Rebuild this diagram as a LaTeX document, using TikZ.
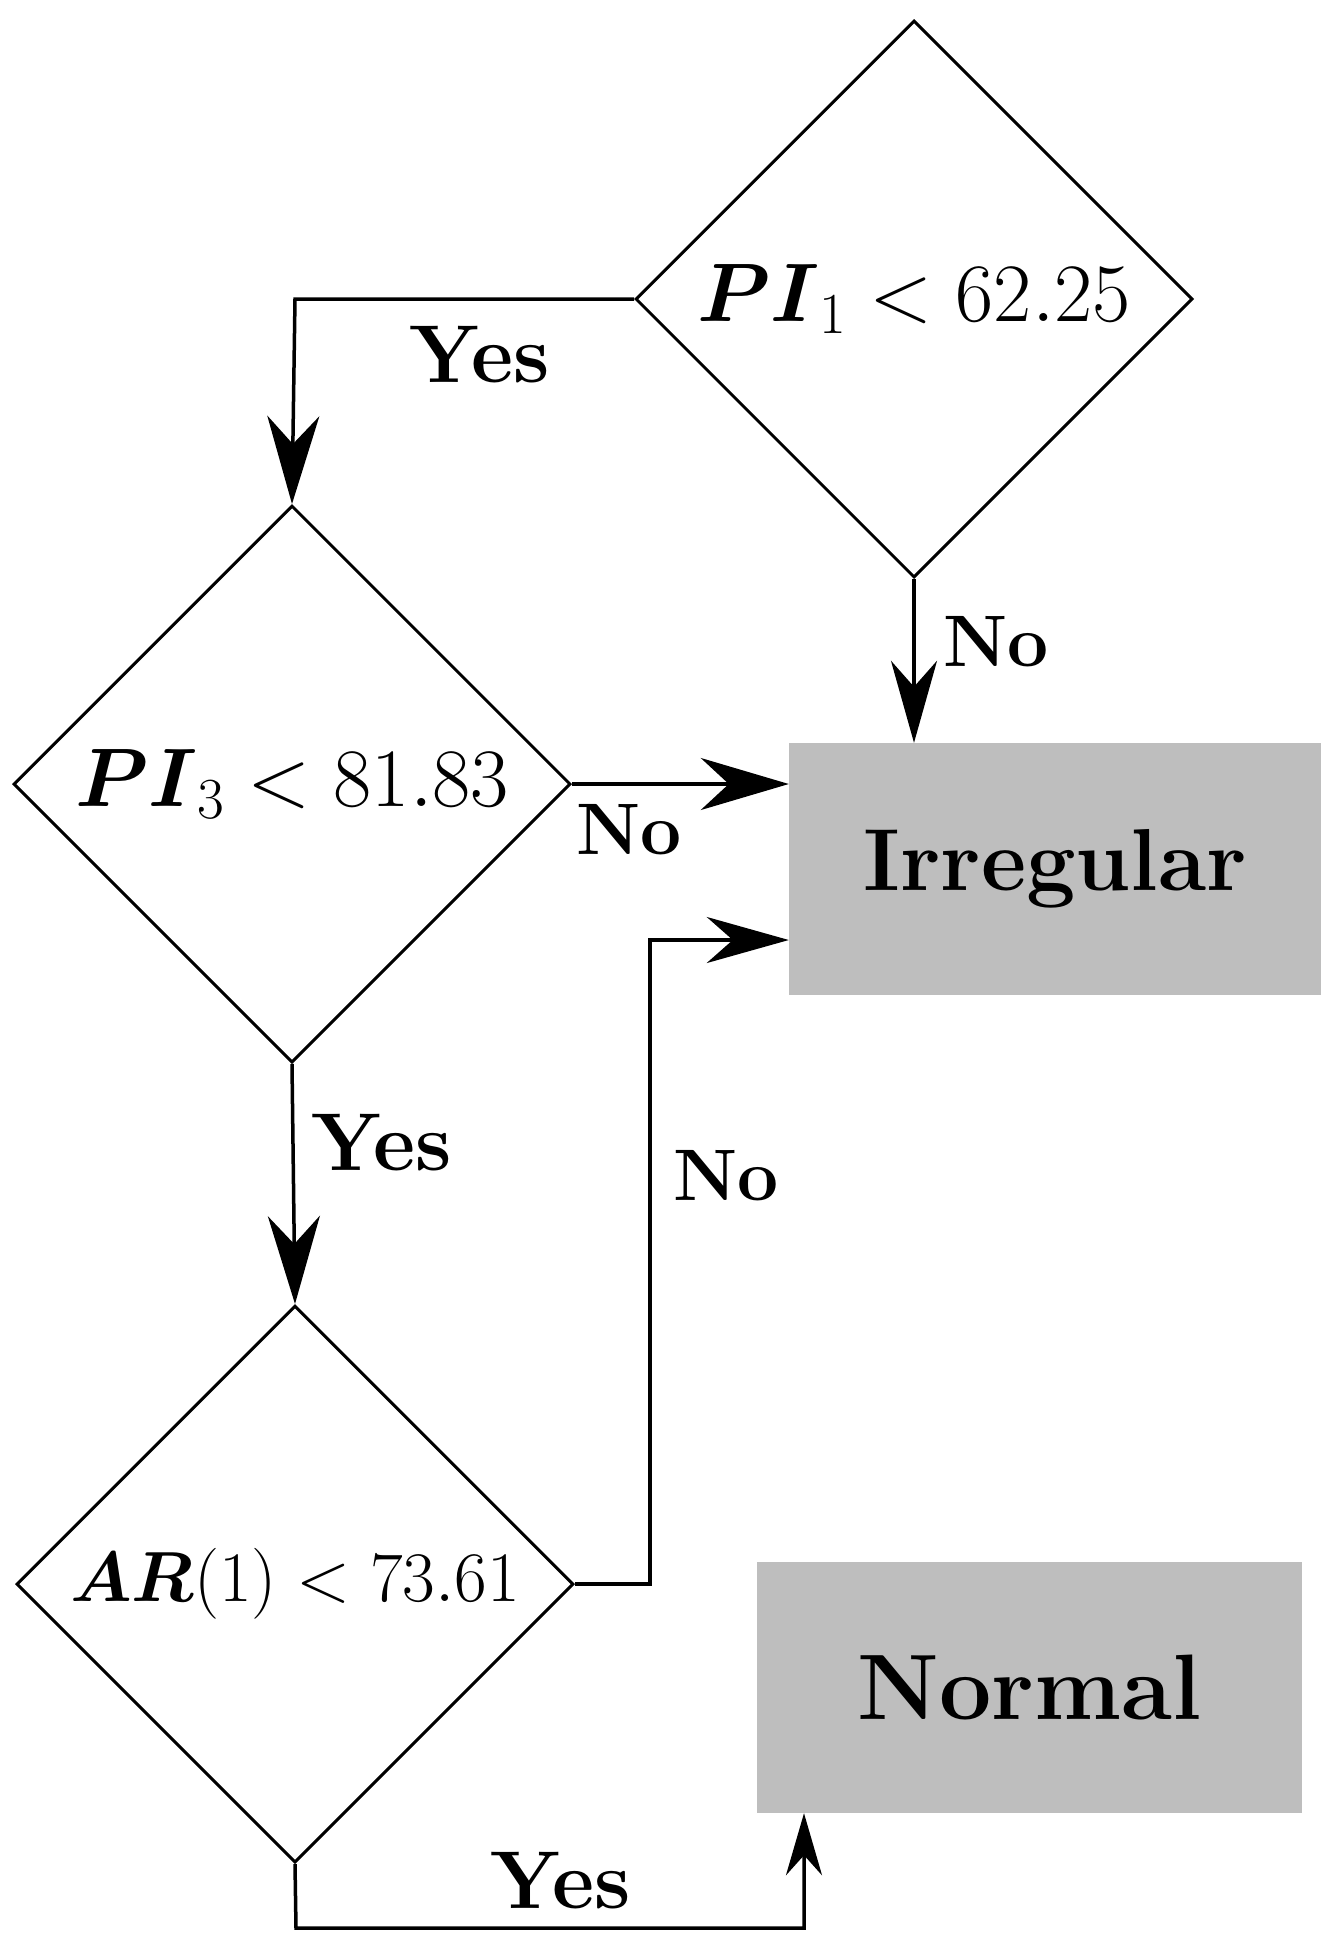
\documentclass[tikz,border=0pt]{standalone}
\usepackage{fix-cm}
\usepackage{amsmath}
\usetikzlibrary{shapes.geometric,arrows.meta}
\definecolor{boxgray}{RGB}{190,190,190}
\begin{document}
\begin{tikzpicture}[x=1pt,y=-1pt,
  decision/.style={draw=black, line width=3pt, diamond, aspect=1, inner sep=0pt,
     minimum width=557pt, minimum height=557pt},
  result/.style={fill=boxgray, draw=none, inner sep=0pt},
  conn/.style={line width=3.5pt},
  bigtip/.style={-{Stealth[length=88pt,width=52pt,inset=28pt]}},
  midtip/.style={-{Stealth[length=82pt,width=46pt,inset=26pt]}},
  smalltip/.style={-{Stealth[length=62pt,width=36pt,inset=20pt]}},
  yeslbl/.style={font=\fontsize{82}{88}\selectfont\bfseries, inner sep=0pt},
  nolbl/.style={font=\fontsize{73}{80}\selectfont\bfseries, inner sep=0pt},
]
\useasboundingbox (0,0) rectangle (1323,1944);
\fill[white] (0,0) rectangle (1323,1944);

\node[decision] (d1) at (914,299) {\fontsize{83}{90}\selectfont $\boldsymbol{PI}_1 < 62.25$};
\node[decision] (d2) at (292,784) {\fontsize{83}{90}\selectfont $\boldsymbol{PI}_3 < 81.83$};
\node[decision] (d3) at (295,1584) {\fontsize{71}{78}\selectfont $\boldsymbol{AR}(1) < 73.61$};

\node[result, minimum width=532pt, minimum height=252pt] (irr) at (1055,869)
  {\fontsize{88}{94}\selectfont\bfseries Irregular};
\node[result, minimum width=545pt, minimum height=251pt] (nor) at (1029.5,1687.5)
  {\fontsize{93}{100}\selectfont\bfseries Normal};

\coordinate (c1) at (295,299);
\coordinate (c5a) at (650,1584);
\coordinate (c5b) at (650,940);
\coordinate (c6a) at (296,1928);
\coordinate (c6b) at (804,1928);

\draw[conn, bigtip] (d1.west) -- (c1) -- (d2.north);
\draw[conn, midtip] (d1.south) -- (d1.south |- irr.north);
\draw[conn, bigtip] (d2.east) -- (d2.east -| irr.west);
\draw[conn, bigtip] (d2.south) -- (d3.north);
\draw[conn, midtip] (d3.east) -- (c5a) -- (c5b) -- (c5b -| irr.west);
\draw[conn, smalltip] (d3.south) -- (c6a) -- (c6b) -- (c6b |- nor.south);

\node[yeslbl] (l1) at (480,355) {Yes};
\node[nolbl] (l2) at (996,642) {No};
\node[nolbl] (l3) at (629,830) {No};
\node[yeslbl] (l4) at (382,1143) {Yes};
\node[nolbl] (l5) at (726,1176) {No};
\node[yeslbl] (l6) at (561,1881) {Yes};
\end{tikzpicture}
\end{document}
